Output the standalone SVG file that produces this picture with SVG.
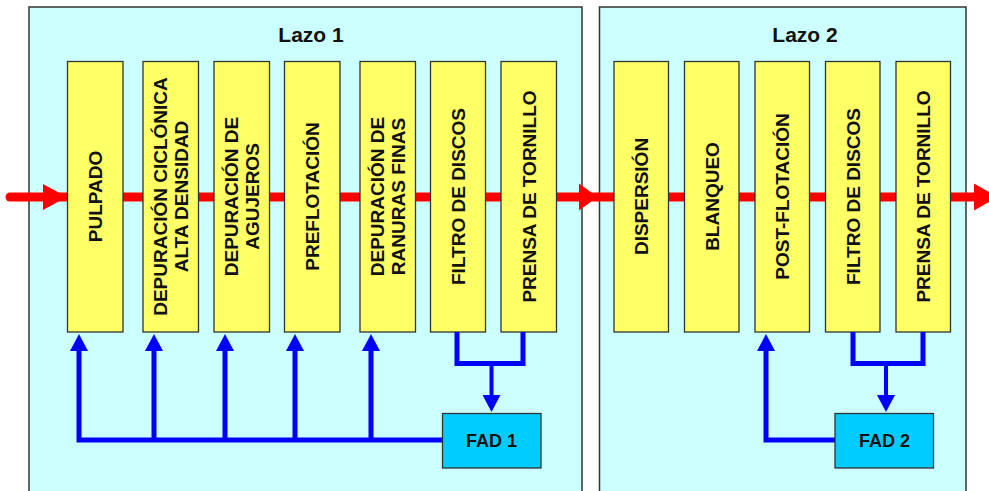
<svg xmlns="http://www.w3.org/2000/svg" width="989" height="491" viewBox="0 0 989 491">
<style>
.lazo{fill:#CCFFFF;stroke:#333;stroke-width:1.5}
.title{font-family:"Liberation Sans",Arial,sans-serif;font-weight:bold;font-size:21px;fill:#111;text-anchor:middle}
.box{fill:#FFFF66;stroke:#333;stroke-width:1.3}
.lbl{font-family:"Liberation Sans",Arial,sans-serif;font-weight:bold;font-size:19px;fill:#111;text-anchor:middle}
.fad{fill:#00CCFF;stroke:#333;stroke-width:1.3}
.fadt{font-family:"Liberation Sans",Arial,sans-serif;font-weight:bold;font-size:18px;fill:#111;text-anchor:middle}
.blue{fill:none;stroke:#0000FF;stroke-width:5;stroke-linejoin:miter}
.red{fill:#FF0000}
</style>
<defs>
<marker id="bh" viewBox="0 0 17 18" refX="1" refY="9" markerWidth="17" markerHeight="18" markerUnits="userSpaceOnUse" orient="auto">
<path d="M0,0 L17,9 L0,18 z" fill="#0000FF"/>
</marker>
</defs>
<rect width="989" height="491" fill="#FFFFFF"/>
<g id="lazo1">
<rect class="lazo" x="29" y="7" width="553" height="500"/>
<text class="title" x="311" y="42">Lazo 1</text>
</g>
<g id="lazo2">
<rect class="lazo" x="599.5" y="7" width="366.5" height="500"/>
<text class="title" x="805" y="42">Lazo 2</text>
</g>
<g id="flow">
<path d="M10,197 H975" stroke="#FF0000" stroke-width="9" stroke-linecap="round" fill="none"/>
<polygon class="red" points="43,184 67,197 43,210"/>
<polygon class="red" points="579,183.5 597.5,197 579,210.5"/>
<polygon class="red" points="974,183.5 998,197 974,210.5"/>
</g>
<g id="pulpado"><rect class="box" x="67.5" y="61.5" width="55.5" height="270.5"/>
<text class="lbl" transform="translate(95.2,196.5) rotate(-90)" y="6.8">PULPADO</text></g>
<g id="dep-ciclonica"><rect class="box" x="143" y="61.5" width="55.5" height="270.5"/>
<text class="lbl" transform="translate(170.7,196.5) rotate(-90)"><tspan x="0" y="-4.2">DEPURACIÓN CICLÓNICA</tspan><tspan x="0" y="17.8">ALTA DENSIDAD</tspan></text></g>
<g id="dep-agujeros"><rect class="box" x="214" y="61.5" width="55.5" height="270.5"/>
<text class="lbl" transform="translate(241.7,196.5) rotate(-90)"><tspan x="0" y="-4.2">DEPURACIÓN DE</tspan><tspan x="0" y="17.8">AGUJEROS</tspan></text></g>
<g id="preflotacion"><rect class="box" x="284.5" y="61.5" width="55.5" height="270.5"/>
<text class="lbl" transform="translate(312.2,196.5) rotate(-90)" y="6.8">PREFLOTACIÓN</text></g>
<g id="dep-ranuras"><rect class="box" x="360" y="61.5" width="55.5" height="270.5"/>
<text class="lbl" transform="translate(387.7,196.5) rotate(-90)"><tspan x="0" y="-4.2">DEPURACIÓN DE</tspan><tspan x="0" y="17.8">RANURAS FINAS</tspan></text></g>
<g id="filtro1"><rect class="box" x="430.5" y="61.5" width="55" height="270.5"/>
<text class="lbl" transform="translate(458,196.5) rotate(-90)" y="6.8">FILTRO DE DISCOS</text></g>
<g id="prensa1"><rect class="box" x="501" y="61.5" width="55.5" height="270.5"/>
<text class="lbl" transform="translate(528.7,196.5) rotate(-90)" y="6.8">PRENSA DE TORNILLO</text></g>
<g id="dispersion"><rect class="box" x="614" y="61.5" width="54.5" height="270.5"/>
<text class="lbl" transform="translate(641.2,196.5) rotate(-90)" y="6.8">DISPERSIÓN</text></g>
<g id="blanqueo"><rect class="box" x="684.5" y="61.5" width="54.5" height="270.5"/>
<text class="lbl" transform="translate(711.7,196.5) rotate(-90)" y="6.8">BLANQUEO</text></g>
<g id="post-flotacion"><rect class="box" x="755" y="61.5" width="54.5" height="270.5"/>
<text class="lbl" transform="translate(782.2,196.5) rotate(-90)" y="6.8">POST-FLOTACIÓN</text></g>
<g id="filtro2"><rect class="box" x="825.5" y="61.5" width="54.5" height="270.5"/>
<text class="lbl" transform="translate(852.7,196.5) rotate(-90)" y="6.8">FILTRO DE DISCOS</text></g>
<g id="prensa2"><rect class="box" x="896" y="61.5" width="54.5" height="270.5"/>
<text class="lbl" transform="translate(923.2,196.5) rotate(-90)" y="6.8">PRENSA DE TORNILLO</text></g>
<g id="connectors">
<path class="blue" d="M443,440 H79 V350" marker-end="url(#bh)"/>
<path class="blue" d="M154,440 V350" marker-end="url(#bh)"/>
<path class="blue" d="M225,440 V350" marker-end="url(#bh)"/>
<path class="blue" d="M295,440 V350" marker-end="url(#bh)"/>
<path class="blue" d="M371,440 V350" marker-end="url(#bh)"/>
<path class="blue" d="M457,332 V363.5 H523 V332"/>
<path class="blue" d="M491.5,363.5 V396" marker-end="url(#bh)" style="stroke-width:4"/>
<path class="blue" d="M835,440 H766 V350" marker-end="url(#bh)"/>
<path class="blue" d="M853,332 V363.5 H923 V332"/>
<path class="blue" d="M886,363.5 V396" marker-end="url(#bh)" style="stroke-width:4"/>
</g>
<g id="fad1"><rect class="fad" x="442.5" y="413.5" width="98.5" height="54.5"/>
<text class="fadt" x="491.5" y="447">FAD 1</text></g>
<g id="fad2"><rect class="fad" x="835" y="413.5" width="98.5" height="54.5"/>
<text class="fadt" x="884.5" y="447">FAD 2</text></g>
</svg>
